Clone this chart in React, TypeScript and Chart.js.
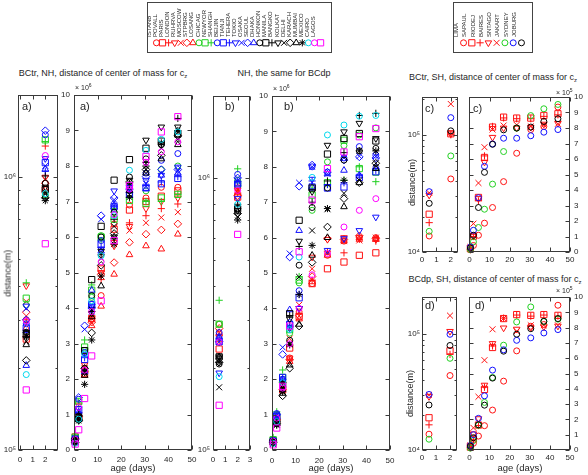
import React, { useEffect, useRef } from "react";
import { Chart, registerables } from "chart.js";

Chart.register(...registerables);

const FONT = "'Liberation Sans', Arial, Helvetica, sans-serif";
const INK = "#262626";

// Ages (days) at which the plume statistics are sampled
const ages = [0.5, 2, 4.5, 7.5, 11.5, 17, 23.5, 30.5, 37, 44];
const ageTicks = [0, 10, 20, 30, 40, 50];
const unitTicks = [0, 1, 2, 3, 4, 5, 6, 7, 8, 9, 10];

const RED = "#ff1010";
const GREEN = "#22d022";
const BLUE = "#1010ff";
const BLACK = "#000000";
const CYAN = "#00d8ec";
const MAGENTA = "#ff00ff";

// Northern-hemisphere source cities
const nhCities = [
  "ISTANB", "POVALL", "PARIS", "LONDON", "RUHRVA", "MOSCOW", "STPBRG", "LOSANG", "CHICAG", "NEWYOR",
  "SHANGH", "BEIJIN", "TIANJI", "TEHERA", "TOKIO", "OSAKA", "SEOUL", "DHAKA", "HONKON", "MANILA",
  "BANGKO", "KOLKAT", "DELHI", "KARACH", "MUMBAI", "MEXICO", "CAIRO", "LAGOS",
];
const nhColors = [
  RED, RED, RED, RED, RED, RED, RED, GREEN, GREEN, GREEN,
  BLUE, BLUE, BLUE, BLUE, BLUE, BLUE, BLUE, BLACK, BLACK, BLACK,
  BLACK, BLACK, BLACK, BLACK, BLACK, CYAN, MAGENTA, MAGENTA,
];
const nhMarkers = [
  "o", "s", "+", "v", "x", "d", "^", "o", "s", "+",
  "o", "s", "+", "v", "x", "d", "^", "o", "s", "+",
  "v", "x", "d", "^", "*", "o", "o", "s",
];

// BCtr, NH: distance of the centre of mass (x 10^6 m)
const ISTANB_TR = [0.30, 0.95, 2.20, 3.70, 4.35, 6.37, 6.90, 7.10, 7.40, 7.40];
const POVALL_TR = [0.255, 0.90, 2.15, 3.70, 5.10, 6.22, 6.76, 7.00, 7.15, 7.30];
const PARIS_TR = [0.30, 1.30, 2.30, 3.75, 4.80, 5.90, 6.40, 6.60, 6.80, 6.93];
const LONDON_TR = [0.40, 1.00, 2.40, 3.65, 5.00, 5.75, 6.30, 6.80, 7.00, 7.10];
const RUHRVA_TR = [0.35, 0.98, 2.30, 3.70, 4.90, 5.80, 6.18, 6.40, 6.55, 6.70];
const MOSCOW_TR = [0.32, 0.95, 2.20, 3.60, 4.95, 5.28, 5.85, 6.08, 6.20, 6.37];
const STPBRG_TR = [0.28, 0.90, 2.10, 3.50, 4.05, 4.95, 5.50, 5.75, 5.66, 6.08];
const LOSANG_TR = [0.34, 0.86, 2.80, 4.30, 6.04, 6.70, 7.20, 7.30, 7.90, 8.00];
const CHICAG_TR = [0.36, 1.37, 2.90, 4.50, 6.00, 6.50, 7.03, 6.95, 7.10, 7.20];
const NEWYOR_TR = [0.41, 1.35, 3.10, 4.65, 5.90, 6.80, 7.10, 7.00, 7.00, 7.20];
const SHANGH_TR = [0.29, 1.43, 2.75, 4.10, 5.90, 6.80, 7.40, 7.80, 8.16, 8.35];
const BEIJIN_TR = [0.28, 1.13, 2.55, 4.10, 5.80, 6.86, 7.20, 7.40, 7.50, 7.65];
const TIANJI_TR = [0.27, 1.05, 2.60, 4.00, 5.70, 6.90, 7.25, 7.45, 7.55, 7.70];
const TEHERA_TR = [0.337, 1.17, 2.70, 4.05, 5.66, 7.30, 7.40, 7.60, 7.74, 7.97];
const TOKIO_TR = [0.33, 1.10, 3.40, 3.90, 6.50, 7.05, 7.40, 7.50, 7.80, 7.85];
const OSAKA_TR = [0.30, 1.48, 3.50, 4.00, 6.60, 7.10, 7.35, 7.70, 7.90, 7.90];
const SEOUL_TR = [0.204, 1.07, 2.20, 4.50, 5.60, 6.90, 7.30, 7.35, 7.74, 7.80];
const DHAKA_TR = [0.27, 0.95, 2.30, 4.35, 6.00, 6.70, 7.69, 8.20, 8.60, 8.90];
const HONKON_TR = [0.265, 0.90, 2.80, 4.80, 6.30, 7.60, 8.18, 8.50, 8.70, 8.90];
const MANILA_TR = [0.26, 1.01, 2.25, 3.90, 5.50, 6.50, 7.50, 8.10, 8.60, 9.34];
const BANGKO_TR = [0.27, 0.92, 2.20, 3.85, 5.60, 6.00, 7.60, 8.73, 9.10, 9.10];
const KOLKAT_TR = [0.25, 0.88, 2.20, 3.95, 5.40, 6.30, 7.20, 7.90, 8.50, 8.75];
const DELHI_TR = [0.213, 0.84, 2.30, 3.30, 5.20, 6.10, 7.55, 7.90, 8.30, 8.85];
const KARACH_TR = [0.243, 0.85, 2.10, 3.75, 4.62, 6.00, 7.30, 7.80, 8.20, 8.60];
const MUMBAI_TR = [0.26, 0.82, 1.85, 3.10, 4.90, 5.80, 7.12, 8.00, 8.65, 9.00];
const MEXICO_TR = [0.189, 0.87, 2.70, 4.20, 5.47, 6.60, 7.88, 8.44, 8.75, 8.96];
const CAIRO_TR = [0.297, 1.20, 2.25, 3.90, 5.30, 6.63, 7.35, 8.10, 8.40, 8.68];
const LAGOS_TR = [0.166, 0.57, 1.45, 2.65, 4.20, 5.90, 7.45, 8.27, 8.96, 9.39];

const nhTr = [
  ISTANB_TR, POVALL_TR, PARIS_TR, LONDON_TR, RUHRVA_TR, MOSCOW_TR, STPBRG_TR, LOSANG_TR, CHICAG_TR, NEWYOR_TR,
  SHANGH_TR, BEIJIN_TR, TIANJI_TR, TEHERA_TR, TOKIO_TR, OSAKA_TR, SEOUL_TR, DHAKA_TR, HONKON_TR, MANILA_TR,
  BANGKO_TR, KOLKAT_TR, DELHI_TR, KARACH_TR, MUMBAI_TR, MEXICO_TR, CAIRO_TR, LAGOS_TR,
];

// BCdp, NH: distance of the centre of mass (x 10^6 m)
const ISTANB_DP = [0.29, 0.92, 1.80, 2.60, 3.90, 4.70, 5.50, 5.90, 6.00, 6.00];
const POVALL_DP = [0.235, 0.85, 1.70, 2.88, 3.77, 4.70, 5.12, 5.31, 5.50, 5.57];
const PARIS_DP = [0.25, 0.88, 1.75, 2.55, 3.85, 4.80, 5.60, 5.57, 5.95, 5.90];
const LONDON_DP = [0.26, 0.90, 1.85, 2.60, 4.00, 5.45, 5.95, 6.00, 6.00, 5.95];
const RUHRVA_DP = [0.27, 0.90, 1.80, 3.15, 4.10, 5.12, 5.55, 5.90, 5.92, 6.00];
const MOSCOW_DP = [0.28, 0.86, 1.70, 2.55, 3.80, 4.90, 5.97, 5.95, 6.05, 5.97];
const STPBRG_DP = [0.27, 0.88, 1.75, 2.50, 3.70, 4.75, 5.50, 5.90, 5.95, 5.95];
const LOSANG_DP = [0.29, 0.98, 2.00, 3.30, 4.72, 6.77, 8.14, 8.60, 8.90, 9.10];
const CHICAG_DP = [0.29, 0.95, 2.05, 3.40, 4.80, 7.20, 7.55, 8.75, 7.95, 7.85];
const NEWYOR_DP = [0.355, 1.08, 2.26, 3.50, 4.90, 7.40, 7.50, 7.62, 8.00, 7.58];
const SHANGH_DP = [0.27, 1.03, 2.00, 3.60, 4.50, 8.00, 7.85, 8.25, 8.57, 8.33];
const BEIJIN_DP = [0.25, 0.95, 2.05, 3.54, 4.30, 7.43, 7.40, 7.43, 7.70, 7.86];
const TIANJI_DP = [0.26, 0.97, 2.00, 3.50, 4.40, 7.60, 7.50, 7.55, 7.75, 7.90];
const TEHERA_DP = [0.192, 0.84, 1.95, 3.45, 4.00, 7.65, 5.64, 5.97, 6.20, 6.58];
const TOKIO_DP = [0.25, 0.98, 2.90, 5.55, 7.55, 8.00, 7.80, 8.25, 8.30, 8.30];
const OSAKA_DP = [0.25, 1.00, 2.70, 5.45, 7.45, 8.05, 7.85, 8.19, 8.28, 8.25];
const SEOUL_DP = [0.26, 0.95, 2.00, 3.96, 6.20, 7.43, 7.80, 7.90, 7.76, 8.00];
const DHAKA_DP = [0.207, 0.77, 1.80, 3.10, 5.22, 6.85, 7.40, 8.19, 8.45, 8.52];
const HONKON_DP = [0.22, 0.77, 1.85, 3.85, 6.49, 7.40, 8.36, 8.80, 8.94, 8.73];
const MANILA_DP = [0.22, 0.80, 1.90, 3.80, 5.75, 7.00, 7.60, 8.40, 9.45, 9.51];
const BANGKO_DP = [0.22, 0.76, 1.85, 3.70, 5.90, 7.30, 8.61, 8.99, 9.23, 8.80];
const KOLKAT_DP = [0.17, 0.72, 1.75, 3.00, 4.89, 6.20, 6.80, 7.25, 7.62, 8.10];
const DELHI_DP = [0.21, 0.74, 1.53, 2.31, 3.50, 5.30, 6.30, 7.10, 7.55, 8.10];
const KARACH_DP = [0.22, 0.75, 1.60, 2.40, 3.55, 5.50, 6.00, 6.87, 7.55, 7.95];
const MUMBAI_DP = [0.21, 0.70, 1.65, 2.97, 4.39, 5.78, 6.82, 7.62, 8.45, 8.45];
const MEXICO_DP = [0.186, 0.80, 1.90, 3.40, 5.45, 7.70, 8.90, 9.18, 9.43, 9.45];
const CAIRO_DP = [0.25, 0.90, 1.75, 3.00, 4.00, 4.95, 5.55, 6.30, 6.77, 7.10];
const LAGOS_DP = [0.146, 0.62, 1.80, 3.50, 5.60, 7.06, 7.95, 8.42, 8.85, 9.08];

const nhDp = [
  ISTANB_DP, POVALL_DP, PARIS_DP, LONDON_DP, RUHRVA_DP, MOSCOW_DP, STPBRG_DP, LOSANG_DP, CHICAG_DP, NEWYOR_DP,
  SHANGH_DP, BEIJIN_DP, TIANJI_DP, TEHERA_DP, TOKIO_DP, OSAKA_DP, SEOUL_DP, DHAKA_DP, HONKON_DP, MANILA_DP,
  BANGKO_DP, KOLKAT_DP, DELHI_DP, KARACH_DP, MUMBAI_DP, MEXICO_DP, CAIRO_DP, LAGOS_DP,
];

// Southern-hemisphere source cities
const shCities = ["LIMA", "SAPAUL", "RIODEJ", "BAIRES", "SNTAGO", "JAKART", "SYDNEY", "JOBURG"];
const shColors = [RED, RED, RED, RED, RED, GREEN, BLUE, BLACK];
const shMarkers = ["o", "s", "+", "v", "x", "o", "o", "o"];

// BCtr, SH (x 10^5 m)
const LIMA_TR = [0.137, 0.42, 1.08, 1.86, 2.87, 4.54, 6.37, 7.90, 8.10, 9.35];
const SAPAUL_TR = [0.21, 1.02, 3.52, 6.10, 8.06, 8.70, 8.64, 8.64, 8.81, 8.92];
const RIODEJ_TR = [0.178, 1.00, 3.30, 6.20, 8.10, 8.65, 8.60, 8.60, 8.75, 8.85];
const BAIRES_TR = [0.306, 1.02, 3.45, 5.80, 7.40, 8.00, 8.00, 8.05, 8.25, 8.30];
const SNTAGO_TR = [0.32, 1.83, 4.45, 6.76, 7.90, 8.16, 8.20, 8.10, 8.20, 8.27];
const JAKART_TR = [0.15, 0.66, 1.58, 2.76, 4.38, 6.48, 7.99, 8.80, 9.24, 9.52];
const SYDNEY_TR = [0.327, 1.40, 3.50, 5.53, 6.97, 7.34, 7.34, 7.50, 7.73, 7.90];
const JOBURG_TR = [0.26, 1.08, 2.87, 5.14, 6.95, 7.88, 8.00, 8.06, 8.42, 8.60];
const shTr = [LIMA_TR, SAPAUL_TR, RIODEJ_TR, BAIRES_TR, SNTAGO_TR, JAKART_TR, SYDNEY_TR, JOBURG_TR];

// BCdp, SH (x 10^5 m)
const LIMA_DP = [0.137, 0.44, 0.91, 1.59, 2.61, 4.50, 6.48, 8.09, 8.20, 9.46];
const SAPAUL_DP = [0.19, 0.72, 1.63, 3.96, 6.70, 8.59, 8.85, 8.80, 8.85, 8.80];
const RIODEJ_DP = [0.165, 0.67, 1.60, 4.10, 6.80, 8.62, 8.82, 8.75, 8.82, 8.75];
const BAIRES_DP = [0.29, 1.06, 2.05, 4.24, 6.96, 7.98, 7.90, 8.00, 8.05, 8.10];
const SNTAGO_DP = [0.30, 1.45, 3.48, 5.87, 7.89, 8.60, 7.76, 8.15, 8.15, 8.15];
const JAKART_DP = [0.124, 0.62, 1.62, 3.11, 4.74, 6.85, 8.37, 9.35, 8.40, 8.55];
const SYDNEY_DP = [0.302, 1.00, 2.07, 3.54, 5.22, 6.55, 7.17, 7.33, 7.65, 7.87];
const JOBURG_DP = [0.245, 0.80, 1.65, 2.93, 4.70, 6.46, 7.57, 7.93, 8.41, 8.59];
const shDp = [LIMA_DP, SAPAUL_DP, RIODEJ_DP, BAIRES_DP, SNTAGO_DP, JAKART_DP, SYDNEY_DP, JOBURG_DP];

type Series = { color: string; marker: string; pts: { x: number; y: number }[] };

function buildSeries(rows: number[][], colors: string[], markers: string[], count: number, scale: number): Series[] {
  return rows.map((row, i) => ({
    color: colors[i],
    marker: markers[i],
    pts: row.slice(0, count).map((v, j) => ({ x: ages[j], y: v * scale })),
  }));
}

function markerOpts(m: string) {
  switch (m) {
    case "o": return { pointStyle: "circle", pointRadius: 3, pointRotation: 0 };
    case "s": return { pointStyle: "rect", pointRadius: 4.4, pointRotation: 0 };
    case "+": return { pointStyle: "cross", pointRadius: 3.6, pointRotation: 0 };
    case "x": return { pointStyle: "crossRot", pointRadius: 4.2, pointRotation: 0 };
    case "d": return { pointStyle: "rectRot", pointRadius: 3.8, pointRotation: 0 };
    case "^": return { pointStyle: "triangle", pointRadius: 3.8, pointRotation: 0 };
    case "v": return { pointStyle: "triangle", pointRadius: 3.8, pointRotation: 180 };
    default: return { pointStyle: "star", pointRadius: 3.6, pointRotation: 0 };
  }
}

function toDatasets(series: Series[]) {
  const n = series.length;
  return series.map((s, i) => ({
    data: s.pts,
    showLine: false,
    clip: false as any,
    order: n - i,
    borderColor: s.color,
    backgroundColor: "rgba(0,0,0,0)",
    pointBorderColor: s.color,
    pointBackgroundColor: "rgba(0,0,0,0)",
    pointBorderWidth: 1,
    ...markerOpts(s.marker),
  }));
}

const SUP: Record<string, string> = { "0": "⁰", "1": "¹", "2": "²", "3": "³", "4": "⁴", "5": "⁵", "6": "⁶", "7": "⁷", "8": "⁸", "9": "⁹" };
function powLabel(v: number) {
  const e = Math.round(Math.log10(v));
  return "10" + String(e).split("").map((c) => SUP[c] || c).join("");
}

// Box outline with inward tick marks on all four sides
const framePlugin = {
  id: "frame",
  afterDraw(chart: any) {
    const { ctx, chartArea: a, scales } = chart;
    const xs = scales.x;
    const ys = scales.y;
    const L = Math.round(a.left) + 0.5;
    const R = Math.round(a.right) - 0.5;
    const T = Math.round(a.top) + 0.5;
    const B = Math.round(a.bottom) - 0.5;
    ctx.save();
    ctx.strokeStyle = "#3a3a3a";
    ctx.lineWidth = 1;
    ctx.strokeRect(L, T, R - L, B - T);
    ctx.beginPath();
    const major = 4;
    const minor = 2;
    for (const t of xs.ticks) {
      const px = Math.round(xs.getPixelForValue(t.value)) + 0.5;
      ctx.moveTo(px, B); ctx.lineTo(px, B - major);
      ctx.moveTo(px, T); ctx.lineTo(px, T + major);
    }
    for (const t of ys.ticks) {
      const py = Math.round(ys.getPixelForValue(t.value)) + 0.5;
      ctx.moveTo(L, py); ctx.lineTo(L + major, py);
      ctx.moveTo(R, py); ctx.lineTo(R - major, py);
    }
    if (ys.type === "logarithmic") {
      const e0 = Math.floor(Math.log10(ys.min));
      const e1 = Math.ceil(Math.log10(ys.max));
      for (let e = e0; e <= e1; e++) {
        for (let m = 2; m <= 9; m++) {
          const v = m * Math.pow(10, e);
          if (v <= ys.min || v >= ys.max) continue;
          const py = Math.round(ys.getPixelForValue(v)) + 0.5;
          ctx.moveTo(L, py); ctx.lineTo(L + minor, py);
          ctx.moveTo(R, py); ctx.lineTo(R - minor, py);
        }
      }
    }
    ctx.stroke();
    ctx.restore();
  },
};

type PanelProps = {
  left: number; top: number; right: number; bottom: number;
  xMin: number; xMax: number; xTicks: number[]; xPad: number;
  log: boolean; yMin: number; yMax: number; yTicks: number[];
  yRight?: boolean; yPad: number;
  series: Series[];
};

function Panel(p: PanelProps) {
  const ref = useRef<HTMLCanvasElement>(null);
  const padL = p.yRight ? 4 : 34;
  const padR = p.yRight ? 24 : 6;
  const padT = 8;
  const padB = 18;
  const w = p.right - p.left + padL + padR;
  const h = p.bottom - p.top + padT + padB;

  useEffect(() => {
    const tickFont = { family: FONT, size: 8 };
    const chart = new Chart(ref.current as HTMLCanvasElement, {
      type: "scatter",
      data: { datasets: toDatasets(p.series) as any },
      options: {
        animation: false,
        responsive: false,
        devicePixelRatio: 1,
        events: [],
        layout: {
          padding: p.yRight
            ? { left: padL, right: 0, top: padT, bottom: 0 }
            : { left: 0, right: padR, top: padT, bottom: 0 },
        },
        plugins: { legend: { display: false }, tooltip: { enabled: false } },
        scales: {
          x: {
            type: "linear",
            min: p.xMin,
            max: p.xMax,
            grid: { display: false, drawTicks: false },
            border: { display: false },
            ticks: { font: tickFont, color: INK, padding: p.xPad, maxRotation: 0, autoSkip: false, callback: (v: any) => String(v) },
            afterBuildTicks: (ax: any) => { ax.ticks = p.xTicks.map((v) => ({ value: v })); },
            afterFit: (ax: any) => { ax.height = padB; ax.paddingLeft = 0; ax.paddingRight = 0; },
          },
          y: {
            type: p.log ? "logarithmic" : "linear",
            position: p.yRight ? "right" : "left",
            min: p.yMin,
            max: p.yMax,
            grid: { display: false, drawTicks: false },
            border: { display: false },
            ticks: {
              font: tickFont, color: INK, padding: p.yPad, autoSkip: false,
              callback: (v: any) => (p.log ? powLabel(Number(v)) : String(v)),
            },
            afterBuildTicks: (ax: any) => { ax.ticks = p.yTicks.map((v) => ({ value: v })); },
            afterFit: (ax: any) => { ax.width = p.yRight ? padR : padL; ax.paddingTop = 0; ax.paddingBottom = 0; },
          },
        } as any,
      },
      plugins: [framePlugin],
    });
    return () => chart.destroy();
  }, []);

  return (
    <canvas
      ref={ref}
      width={w}
      height={h}
      style={{ position: "absolute", left: p.left - padL, top: p.top - padT, width: w, height: h }}
    />
  );
}

type LegendProps = { names: string[]; colors: string[]; markers: string[]; left: number; top: number; width: number; height: number; axisH: number };

function LegendStrip(p: LegendProps) {
  const ref = useRef<HTMLCanvasElement>(null);
  useEffect(() => {
    const n = p.names.length;
    const chart = new Chart(ref.current as HTMLCanvasElement, {
      type: "scatter",
      data: {
        datasets: p.names.map((name, i) => ({
          data: [{ x: name, y: 0 }],
          showLine: false,
          clip: false,
          order: n - i,
          borderColor: p.colors[i],
          backgroundColor: "rgba(0,0,0,0)",
          pointBorderColor: p.colors[i],
          pointBackgroundColor: "rgba(0,0,0,0)",
          pointBorderWidth: 1,
          ...markerOpts(p.markers[i]),
        })) as any,
      },
      options: {
        animation: false,
        responsive: false,
        devicePixelRatio: 1,
        events: [],
        layout: { padding: 0 },
        plugins: { legend: { display: false }, tooltip: { enabled: false } },
        scales: {
          x: {
            type: "category",
            labels: p.names,
            offset: true,
            position: "top",
            grid: { display: false, drawTicks: false },
            border: { display: false },
            ticks: { autoSkip: false, minRotation: 90, maxRotation: 90, padding: 2, font: { family: FONT, size: 6 }, color: INK },
            afterFit: (ax: any) => { ax.height = p.axisH; ax.paddingLeft = 0; ax.paddingRight = 0; },
          },
          y: { display: false, min: -1, max: 1 },
        } as any,
      },
    });
    return () => chart.destroy();
  }, []);
  return (
    <canvas
      ref={ref}
      width={p.width}
      height={p.height}
      style={{ position: "absolute", left: p.left, top: p.top, width: p.width, height: p.height }}
    />
  );
}

function Txt(props: { x: number; y: number; size: number; children: React.ReactNode; align?: "left" | "center"; w?: number }) {
  const w = props.w ?? 300;
  const left = props.align === "left" ? props.x : props.x - w / 2;
  return (
    <div
      style={{
        position: "absolute", left, top: props.y - props.size * 0.6, width: w,
        textAlign: props.align === "left" ? "left" : "center",
        fontSize: props.size, lineHeight: `${props.size * 1.2}px`, whiteSpace: "nowrap", color: INK,
      }}
    >
      {props.children}
    </div>
  );
}

function VTxt(props: { x: number; y: number; size: number; children: React.ReactNode }) {
  return (
    <div
      style={{
        position: "absolute", left: props.x - 60, top: props.y - props.size * 0.6, width: 120,
        textAlign: "center", fontSize: props.size, lineHeight: `${props.size * 1.2}px`,
        transform: "rotate(-90deg)", whiteSpace: "nowrap", color: INK,
      }}
    >
      {props.children}
    </div>
  );
}

function Mult(props: { x: number; y: number; exp: string }) {
  return (
    <div style={{ position: "absolute", left: props.x, top: props.y, fontSize: 7, lineHeight: "9px", color: INK, whiteSpace: "nowrap" }}>
      × 10<sup style={{ fontSize: 5, verticalAlign: "top", position: "relative", top: -2 }}>{props.exp}</sup>
    </div>
  );
}

const Cz = () => (
  <span>c<sub style={{ fontSize: 6, verticalAlign: "baseline", position: "relative", top: 2 }}>z</sub></span>
);

export default function App() {
  const nhTrMain = buildSeries(nhTr, nhColors, nhMarkers, 10, 1);
  const nhTrLog = buildSeries(nhTr, nhColors, nhMarkers, 2, 1e6);
  const nhDpMain = buildSeries(nhDp, nhColors, nhMarkers, 10, 1);
  const nhDpLog = buildSeries(nhDp, nhColors, nhMarkers, 2, 1e6);
  const shTrMain = buildSeries(shTr, shColors, shMarkers, 10, 1);
  const shTrLog = buildSeries(shTr, shColors, shMarkers, 2, 1e5);
  const shDpMain = buildSeries(shDp, shColors, shMarkers, 10, 1);
  const shDpLog = buildSeries(shDp, shColors, shMarkers, 2, 1e5);

  const lbl = { position: "absolute" as const, fontSize: 11, lineHeight: "12px", color: INK };

  return (
    <div style={{ position: "absolute", left: 0, top: 0, width: 588, height: 475, background: "#fff", fontFamily: FONT, overflow: "hidden" }}>
      {/* legends */}
      <div style={{ position: "absolute", left: 147, top: 2, width: 185, height: 51, border: "1px solid #444", boxSizing: "border-box" }} />
      <LegendStrip names={nhCities} colors={nhColors} markers={nhMarkers} left={148} top={3} width={181} height={49} axisH={36} />
      <div style={{ position: "absolute", left: 453, top: 2, width: 80, height: 51, border: "1px solid #444", boxSizing: "border-box" }} />
      <LegendStrip names={shCities} colors={shColors} markers={shMarkers} left={454} top={3} width={77} height={49} axisH={36} />

      {/* titles */}
      <Txt x={103} y={73} size={9}>BCtr, NH, distance of center of mass for <Cz /></Txt>
      <Txt x={284} y={73} size={9}>NH, the same for BCdp</Txt>
      <Txt x={493} y={77} size={9}>BCtr, SH, distance of center of mass for <Cz /></Txt>
      <Txt x={495} y={279} size={9}>BCdp, SH, distance of center of mass for <Cz /></Txt>

      {/* NH, BCtr */}
      <Panel left={18} top={95} right={58} bottom={450} xMin={-0.15} xMax={3} xTicks={[0, 1, 2]} xPad={5}
        log yMin={1e5} yMax={2e6} yTicks={[1e5, 1e6]} yPad={2} series={nhTrLog} />
      <Panel left={74} top={95} right={192} bottom={450} xMin={0} xMax={50} xTicks={ageTicks} xPad={5}
        log={false} yMin={0} yMax={10} yTicks={unitTicks} yPad={4} series={nhTrMain} />

      {/* NH, BCdp */}
      <Panel left={213} top={96} right={250} bottom={450} xMin={0} xMax={3} xTicks={[0, 1, 2, 3]} xPad={5}
        log yMin={1e5} yMax={2e6} yTicks={[1e5, 1e6]} yPad={3} series={nhDpLog} />
      <Panel left={272} top={96} right={390} bottom={450} xMin={0} xMax={50} xTicks={ageTicks} xPad={6}
        log={false} yMin={0} yMax={10} yTicks={unitTicks} yPad={4} series={nhDpMain} />

      {/* SH, BCtr */}
      <Panel left={422} top={97} right={458} bottom={252} xMin={0} xMax={2.5} xTicks={[0, 1, 2]} xPad={3}
        log yMin={1e4} yMax={2.1e5} yTicks={[1e4, 1e5]} yPad={2} series={shTrLog} />
      <Panel left={468} top={97} right={570} bottom={252} xMin={0} xMax={50} xTicks={ageTicks} xPad={3}
        log={false} yMin={0} yMax={10} yTicks={unitTicks} yRight yPad={4} series={shTrMain} />

      {/* SH, BCdp */}
      <Panel left={422} top={297} right={457} bottom={450} xMin={0} xMax={2.5} xTicks={[0, 1, 2]} xPad={3}
        log yMin={1e4} yMax={2.1e5} yTicks={[1e4, 1e5]} yPad={2} series={shDpLog} />
      <Panel left={468} top={297} right={570} bottom={450} xMin={0} xMax={50} xTicks={ageTicks} xPad={3}
        log={false} yMin={0} yMax={10} yTicks={unitTicks} yRight yPad={4} series={shDpMain} />

      {/* multipliers */}
      <Mult x={75} y={83} exp="6" />
      <Mult x={273} y={84} exp="6" />
      <Mult x={556} y={88} exp="5" />
      <Mult x={556} y={286} exp="5" />

      {/* panel letters */}
      <div style={{ ...lbl, left: 22, top: 100 }}>a)</div>
      <div style={{ ...lbl, left: 80, top: 100 }}>a)</div>
      <div style={{ ...lbl, left: 225, top: 100 }}>b)</div>
      <div style={{ ...lbl, left: 284, top: 100 }}>b)</div>
      <div style={{ ...lbl, left: 425, top: 102 }}>c)</div>
      <div style={{ ...lbl, left: 473, top: 102 }}>c)</div>
      <div style={{ ...lbl, left: 425, top: 299 }}>d)</div>
      <div style={{ ...lbl, left: 475, top: 299 }}>d)</div>

      {/* axis titles */}
      <VTxt x={8} y={273} size={9}>distance(m)</VTxt>
      <VTxt x={412} y={182} size={9}>distance(m)</VTxt>
      <VTxt x={410} y={393} size={9}>distance(m)</VTxt>
      <Txt x={133} y={468} size={9.5}>age (days)</Txt>
      <Txt x={331} y={468} size={9.5}>age (days)</Txt>
      <Txt x={520} y={468} size={9.5}>age (days)</Txt>
    </div>
  );
}
